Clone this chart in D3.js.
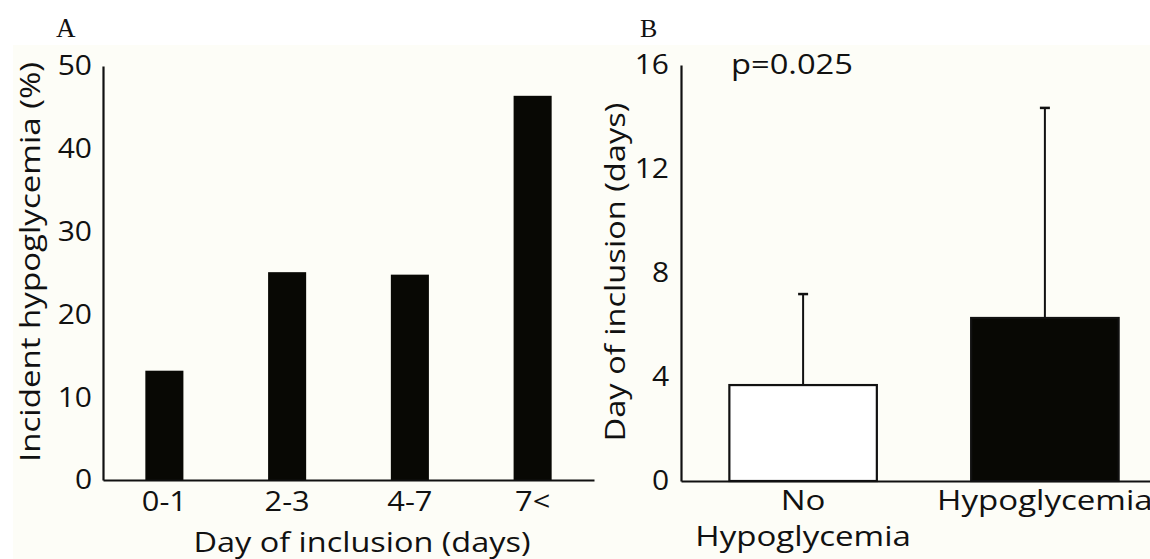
<!DOCTYPE html>
<html>
<head>
<meta charset="utf-8">
<script src="https://cdn.jsdelivr.net/npm/d3@7"></script>
<style>
  html, body { margin: 0; padding: 0; background: #ffffff; }
  svg { display: block; }
  text { font-family: "Open Sans", "Noto Sans", sans-serif; fill: #111; }
</style>
</head>
<body>
<script>
// ---------- data ----------
const categoriesA = ["0-1", "2-3", "4-7", "7<"];
const incidentA = [13.2, 25.1, 24.8, 46.4];
const ticksA = [0, 10, 20, 30, 40, 50];

const groupsB = ["No Hypoglycemia", "Hypoglycemia"];
const groupLinesB = [["No", "Hypoglycemia"], ["Hypoglycemia"]];
const meanB = [3.69, 6.27];
const upperB = [7.19, 14.35];
const fillsB = ["#ffffff", "#080804"];
const ticksB = [0, 4, 8, 12, 16];
const pText = "p=0.025";

// ---------- setup ----------
const W = 1150, H = 559;
const FS = 28;
const STRETCH = 1.14; // reference glyphs are wider than Open Sans
const svg = d3.select("body").append("svg").attr("width", W).attr("height", H);

svg.append("rect").attr("x", 0).attr("y", 0).attr("width", W).attr("height", H).attr("fill", "#ffffff");
svg.append("rect").attr("x", 13).attr("y", 45).attr("width", W - 13).attr("height", H - 45).attr("fill", "#fdfdf7");

function stretch(sel, f) {
  sel.each(function () {
    const n = this.getComputedTextLength();
    d3.select(this).attr("textLength", n * f).attr("lengthAdjust", "spacingAndGlyphs");
  });
}

// ---------- Panel A ----------
const xA = d3.scaleBand().domain(categoriesA).range([103, 594]).paddingInner(0.69).paddingOuter(0.345);
const yA = d3.scaleLinear().domain([0, 50]).range([480, 66]);

const gA = svg.append("g");
gA.selectAll("rect.bar").data(categoriesA).join("rect")
  .attr("class", "bar")
  .attr("x", d => xA(d))
  .attr("width", xA.bandwidth())
  .attr("y", (d, i) => yA(incidentA[i]))
  .attr("height", (d, i) => yA(0) - yA(incidentA[i]))
  .attr("fill", "#080804");

const axA_y = gA.append("g").attr("transform", `translate(${xA.range()[0]},0)`)
  .call(d3.axisLeft(yA).tickValues(ticksA).tickSize(0).tickPadding(11));
const axA_x = gA.append("g").attr("transform", `translate(0,${yA(0)})`)
  .call(d3.axisBottom(xA).tickSize(0).tickPadding(11));

[axA_y, axA_x].forEach(ax => {
  ax.select(".domain").attr("stroke", "#111").attr("stroke-width", 2.2);
  ax.selectAll("text").attr("font-size", FS).attr("font-family", '"Open Sans", sans-serif').attr("fill", "#111");
});
axA_x.selectAll(".tick text").attr("dy", "0.71em");
stretch(axA_y.selectAll(".tick text"), 1.07);
stretch(axA_x.selectAll(".tick text"), 1.1);

gA.append("text")
  .attr("transform", `translate(40,${262}) rotate(-90)`)
  .attr("text-anchor", "middle")
  .attr("font-size", FS)
  .attr("textLength", 400).attr("lengthAdjust", "spacingAndGlyphs")
  .text("Incident hypoglycemia (%)");

gA.append("text")
  .attr("x", 362).attr("y", 552)
  .attr("text-anchor", "middle")
  .attr("font-size", FS)
  .attr("textLength", 337).attr("lengthAdjust", "spacingAndGlyphs")
  .text("Day of inclusion (days)");

svg.append("text").attr("x", 56).attr("y", 37)
  .style("font-family", '"Liberation Serif", "DejaVu Serif", serif')
  .attr("font-size", 27).text("A");

// ---------- Panel B ----------
const xB = d3.scaleBand().domain(groupsB).range([681, 1167]).paddingInner(0.39).paddingOuter(0.2);
const yB = d3.scaleLinear().domain([0, 16]).range([481, 65]);

const gB = svg.append("g");

// error bars (upper only)
gB.selectAll("line.err").data(groupsB).join("line")
  .attr("class", "err")
  .attr("x1", d => xB(d) + xB.bandwidth() / 2)
  .attr("x2", d => xB(d) + xB.bandwidth() / 2)
  .attr("y1", (d, i) => yB(meanB[i]))
  .attr("y2", (d, i) => yB(upperB[i]))
  .attr("stroke", "#111").attr("stroke-width", 2);
gB.selectAll("line.cap").data(groupsB).join("line")
  .attr("class", "cap")
  .attr("x1", d => xB(d) + xB.bandwidth() / 2 - 5)
  .attr("x2", d => xB(d) + xB.bandwidth() / 2 + 5)
  .attr("y1", (d, i) => yB(upperB[i]))
  .attr("y2", (d, i) => yB(upperB[i]))
  .attr("stroke", "#111").attr("stroke-width", 2.5);

gB.selectAll("rect.bar").data(groupsB).join("rect")
  .attr("class", "bar")
  .attr("x", d => xB(d))
  .attr("width", xB.bandwidth())
  .attr("y", (d, i) => yB(meanB[i]))
  .attr("height", (d, i) => yB(0) - yB(meanB[i]))
  .attr("fill", (d, i) => fillsB[i])
  .attr("stroke", "#111").attr("stroke-width", 2.2);

const axB_y = gB.append("g").attr("transform", `translate(${xB.range()[0]},0)`)
  .call(d3.axisLeft(yB).tickValues(ticksB).tickSize(0).tickPadding(12));
const axB_x = gB.append("g").attr("transform", `translate(0,${yB(0)})`)
  .call(d3.axisBottom(xB).tickSize(0).tickFormat(() => ""));

[axB_y, axB_x].forEach(ax => {
  ax.select(".domain").attr("stroke", "#111").attr("stroke-width", 2.2);
  ax.selectAll("text").attr("font-size", FS).attr("font-family", '"Open Sans", sans-serif').attr("fill", "#111");
});
stretch(axB_y.selectAll(".tick text"), 1.07);

// multi-line category labels
groupsB.forEach((g, i) => {
  const cx = xB(g) + xB.bandwidth() / 2;
  groupLinesB[i].forEach((line, j) => {
    const t = gB.append("text")
      .attr("x", cx)
      .attr("y", 510 + j * 36)
      .attr("text-anchor", "middle")
      .attr("font-size", FS)
      .text(line);
    stretch(t, STRETCH + 0.04);
  });
});

gB.append("text")
  .attr("transform", `translate(625,${272}) rotate(-90)`)
  .attr("text-anchor", "middle")
  .attr("font-size", FS)
  .attr("textLength", 339).attr("lengthAdjust", "spacingAndGlyphs")
  .text("Day of inclusion (days)");

gB.append("text").attr("x", 731).attr("y", 74).attr("font-size", FS)
  .attr("textLength", 122).attr("lengthAdjust", "spacingAndGlyphs")
  .text(pText);

svg.append("text").attr("x", 640).attr("y", 37)
  .style("font-family", '"Liberation Serif", "DejaVu Serif", serif')
  .attr("font-size", 26).text("B");
</script>
</body>
</html>
